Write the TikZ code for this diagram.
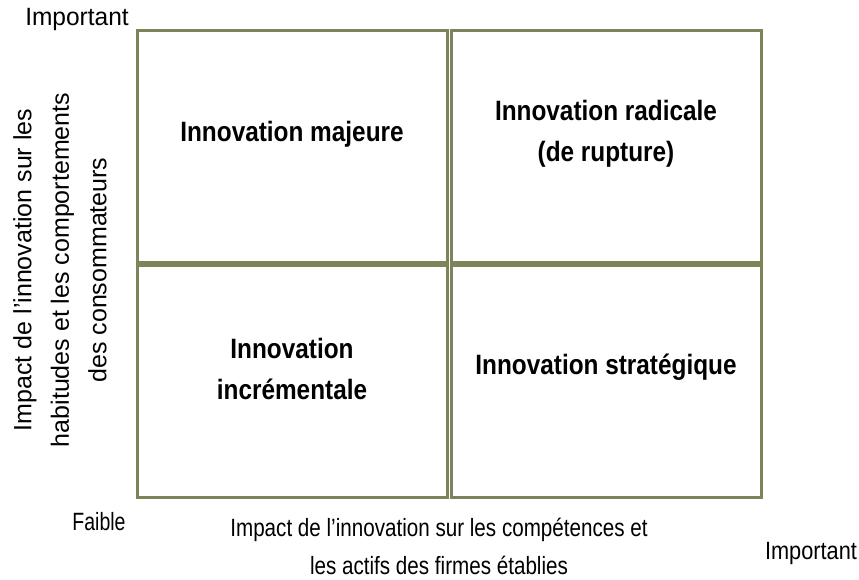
\documentclass[tikz,border=0pt]{standalone}
\usepackage{fontspec}
\setmainfont{Liberation Sans}[FakeStretch=0.825]
\newfontfamily\labfont{Liberation Sans}[FakeStretch=0.87]
\newfontfamily\topfont{Liberation Sans}[FakeStretch=0.98]
\newfontfamily\rightfont{Liberation Sans}[FakeStretch=0.87]
\newfontfamily\faiblefont{Liberation Sans}[FakeStretch=0.78]
\newfontfamily\yfont{Liberation Sans}[FakeStretch=1.0]
\definecolor{olive}{RGB}{126,132,89}
\begin{document}
\begin{tikzpicture}[x=1pt,y=-1pt,
  quad/.style={draw=olive,line width=3pt,minimum width=310pt,minimum height=231.5pt,inner sep=0pt,anchor=center},
  lab/.style={font=\labfont\bfseries\fontsize{28}{41}\selectfont,align=center,inner sep=0pt,text=black},
  axis/.style={font=\fontsize{25}{38}\selectfont,align=center,inner sep=0pt,text=black}]
\useasboundingbox (0,0) rectangle (859,580);
\fill[white] (0,0) rectangle (859,580);
% quadrants
\node[quad] (tl) at (292,146.75) {};
\node[quad] (tr) at (606.25,146.75) {};
\node[quad] (bl) at (292,381.25) {};
\node[quad] (br) at (606.25,381.25) {};
% labels
\node[lab] (maj) at (292,134) {Innovation majeure};
\node[lab] (rad) at (606,134) {Innovation radicale\\(de rupture)};
\node[lab] (inc) at (292,369) {Innovation\\incrémentale};
\node[lab] (str) at (606,367) {Innovation stratégique};
% axes texts
\node[axis,font=\topfont\fontsize{25}{38}\selectfont] (imptop) at (77,19) {Important};
\node[axis,font=\faiblefont\fontsize{25}{38}\selectfont] (faible) at (99,522) {Faible};
\node[axis,font=\rightfont\fontsize{25}{38}\selectfont] (impright) at (811,553) {Important};
\node[axis] (xlab) at (439,546) {Impact de l’innovation sur les compétences et\\les actifs des firmes établies};
\node[axis,font=\yfont\fontsize{25}{37.5}\selectfont,rotate=90] (ylab) at (60,270) {Impact de l’innovation sur les\\habitudes et les comportements\\des consommateurs};
\end{tikzpicture}
\end{document}
